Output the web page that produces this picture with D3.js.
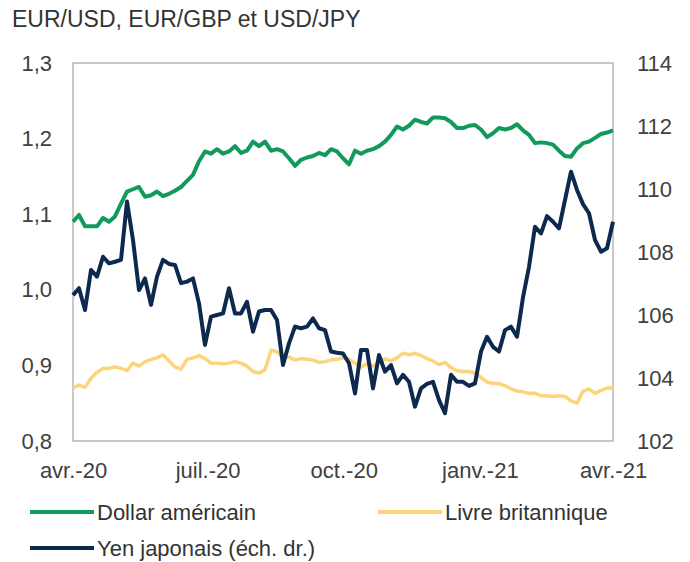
<!DOCTYPE html>
<html>
<head>
<meta charset="utf-8">
<script src="https://cdn.jsdelivr.net/npm/d3@7"></script>
<style>
  body { margin: 0; background: #fff; }
  text { font-family: "Liberation Sans", Arial, sans-serif; }
</style>
</head>
<body>
<div id="chart"></div>
<script>
// values, one point every ~4 days from 1 Apr 2020 to 1 Apr 2021
var usd = [1.090,1.099,1.084,1.084,1.084,1.095,1.090,1.097,1.114,1.130,1.133,1.136,1.123,1.125,1.130,1.124,1.127,1.131,1.136,1.144,1.152,1.170,1.183,1.180,1.186,1.180,1.183,1.190,1.181,1.184,1.196,
  1.190,1.196,1.184,1.186,1.183,1.174,1.164,1.172,1.175,1.177,1.181,1.178,1.186,1.183,1.174,1.166,1.184,1.180,1.184,1.186,1.190,1.196,1.205,1.216,1.212,1.217,1.225,1.222,1.220,1.228,
  1.228,1.227,1.222,1.214,1.214,1.217,1.218,1.212,1.202,1.207,1.214,1.212,1.214,1.219,1.211,1.205,1.194,1.195,1.194,1.192,1.184,1.177,1.176,1.187,1.194,1.196,1.201,1.206,1.208,1.211];

var gbp = [0.870,0.874,0.871,0.883,0.891,0.896,0.896,0.898,0.896,0.893,0.903,0.899,0.905,0.908,0.910,0.914,0.906,0.898,0.895,0.908,0.910,0.913,0.909,0.903,0.903,0.902,0.903,0.905,0.903,0.899,0.892,
  0.890,0.894,0.920,0.918,0.911,0.911,0.907,0.909,0.908,0.907,0.904,0.905,0.907,0.908,0.910,0.908,0.903,0.898,0.902,0.899,0.904,0.909,0.906,0.910,0.916,0.914,0.916,0.913,0.909,0.906,
  0.901,0.904,0.897,0.893,0.892,0.892,0.890,0.884,0.878,0.876,0.876,0.873,0.869,0.866,0.865,0.863,0.863,0.860,0.860,0.859,0.860,0.859,0.853,0.850,0.866,0.869,0.863,0.867,0.870,0.870];

var jpy = [106.63,106.85,106.16,107.43,107.22,107.85,107.64,107.69,107.75,109.60,108.38,106.79,107.16,106.32,107.22,107.75,107.62,107.59,107.01,107.06,107.16,106.37,105.05,105.95,106.00,106.05,106.85,106.05,106.05,106.42,105.47,
  106.11,106.16,106.16,105.84,104.41,105.10,105.63,105.58,105.63,105.89,105.58,105.52,104.84,104.80,104.78,104.47,103.51,104.89,104.89,103.67,104.73,104.20,104.41,103.83,104.10,103.88,103.09,103.67,103.81,103.88,
  103.30,102.88,104.10,103.88,103.88,103.75,103.83,104.84,105.31,104.99,104.84,105.52,105.63,105.31,106.56,107.53,108.80,108.59,109.14,108.96,108.75,109.65,110.55,109.97,109.52,109.23,108.38,108.01,108.12,108.96];

var xTickDates = ["2020-04-01", "2020-07-01", "2020-10-01", "2021-01-01", "2021-04-01"];
var xTickLabels = ["avr.-20", "juil.-20", "oct.-20", "janv.-21", "avr.-21"];
var leftTicks = [0.8, 0.9, 1.0, 1.1, 1.2, 1.3];
var rightTicks = [102, 104, 106, 108, 110, 112, 114];
var seriesNames = ["Dollar américain", "Livre britannique", "Yen japonais (éch. dr.)"];
var seriesColors = ["#119a5c", "#fcd47c", "#0d2a4e"];

var width = 690, height = 562;
var plot = {left: 73, right: 613, top: 63, bottom: 441};

var svg = d3.select("#chart")
  .append("svg")
    .attr("width", width)
    .attr("height", height);

var parse = d3.timeParse("%Y-%m-%d");
var start = parse("2020-04-01"), end = parse("2021-04-01");
var n = usd.length;
var dates = d3.range(n).map(function(i) { return new Date(+start + i * (end - start) / (n - 1)); });

var x = d3.scaleTime().domain([start, end]).range([plot.left, plot.right]);
var yL = d3.scaleLinear().domain([0.8, 1.3]).range([plot.bottom, plot.top]);
var yR = d3.scaleLinear().domain([102, 114]).range([plot.bottom, plot.top]);

// title
svg.append("text")
  .attr("x", 12)
  .attr("y", 27)
  .attr("font-size", 23)
  .attr("fill", "#333")
  .text("EUR/USD, EUR/GBP et USD/JPY");

// frame
svg.append("rect")
  .attr("x", plot.left)
  .attr("y", plot.top)
  .attr("width", plot.right - plot.left)
  .attr("height", plot.bottom - plot.top)
  .attr("fill", "none")
  .attr("stroke", "#a6a6a6")
  .attr("stroke-width", 1.2);

// left axis
var gL = svg.append("g")
  .attr("transform", "translate(" + (plot.left - 21) + ",0)")
  .call(d3.axisLeft(yL).tickValues(leftTicks).tickSize(0)
    .tickFormat(function(d) { return d3.format(".1f")(d).replace(".", ","); }));
gL.select(".domain").remove();

// right axis
var gR = svg.append("g")
  .attr("transform", "translate(" + (plot.right + 24) + ",0)")
  .call(d3.axisRight(yR).tickValues(rightTicks).tickSize(0));
gR.select(".domain").remove();

// x axis
var gX = svg.append("g")
  .attr("transform", "translate(0," + (plot.bottom + 18) + ")")
  .call(d3.axisBottom(x).tickValues(xTickDates.map(parse)).tickSize(0)
    .tickFormat(function(d, i) { return xTickLabels[i]; }));
gX.select(".domain").remove();

svg.selectAll(".tick text")
  .attr("font-family", "Liberation Sans, Arial, sans-serif")
  .attr("font-size", 22)
  .attr("fill", "#404040");
gL.selectAll(".tick text").attr("x", 0);
gR.selectAll(".tick text").attr("x", 0);

// lines
function addLine(values, scale, color, w) {
  svg.append("path")
    .datum(values)
    .attr("fill", "none")
    .attr("stroke", color)
    .attr("stroke-width", w)
    .attr("stroke-linejoin", "round")
    .attr("d", d3.line()
      .x(function(d, i) { return x(dates[i]); })
      .y(function(d) { return scale(d); }));
}
addLine(gbp, yL, seriesColors[1], 3.5);
addLine(usd, yL, seriesColors[0], 4);
addLine(jpy, yR, seriesColors[2], 4);

// legend
var legendPos = [[30, 512], [378, 512], [30, 548]];
seriesNames.forEach(function(name, i) {
  var p = legendPos[i];
  svg.append("line")
    .attr("x1", p[0]).attr("x2", p[0] + 64)
    .attr("y1", p[1]).attr("y2", p[1])
    .attr("stroke", seriesColors[i])
    .attr("stroke-width", 4);
  svg.append("text")
    .attr("x", p[0] + 67)
    .attr("y", p[1] + 8)
    .attr("font-size", 22)
    .attr("fill", "#333")
    .text(name);
});
</script>
</body>
</html>
